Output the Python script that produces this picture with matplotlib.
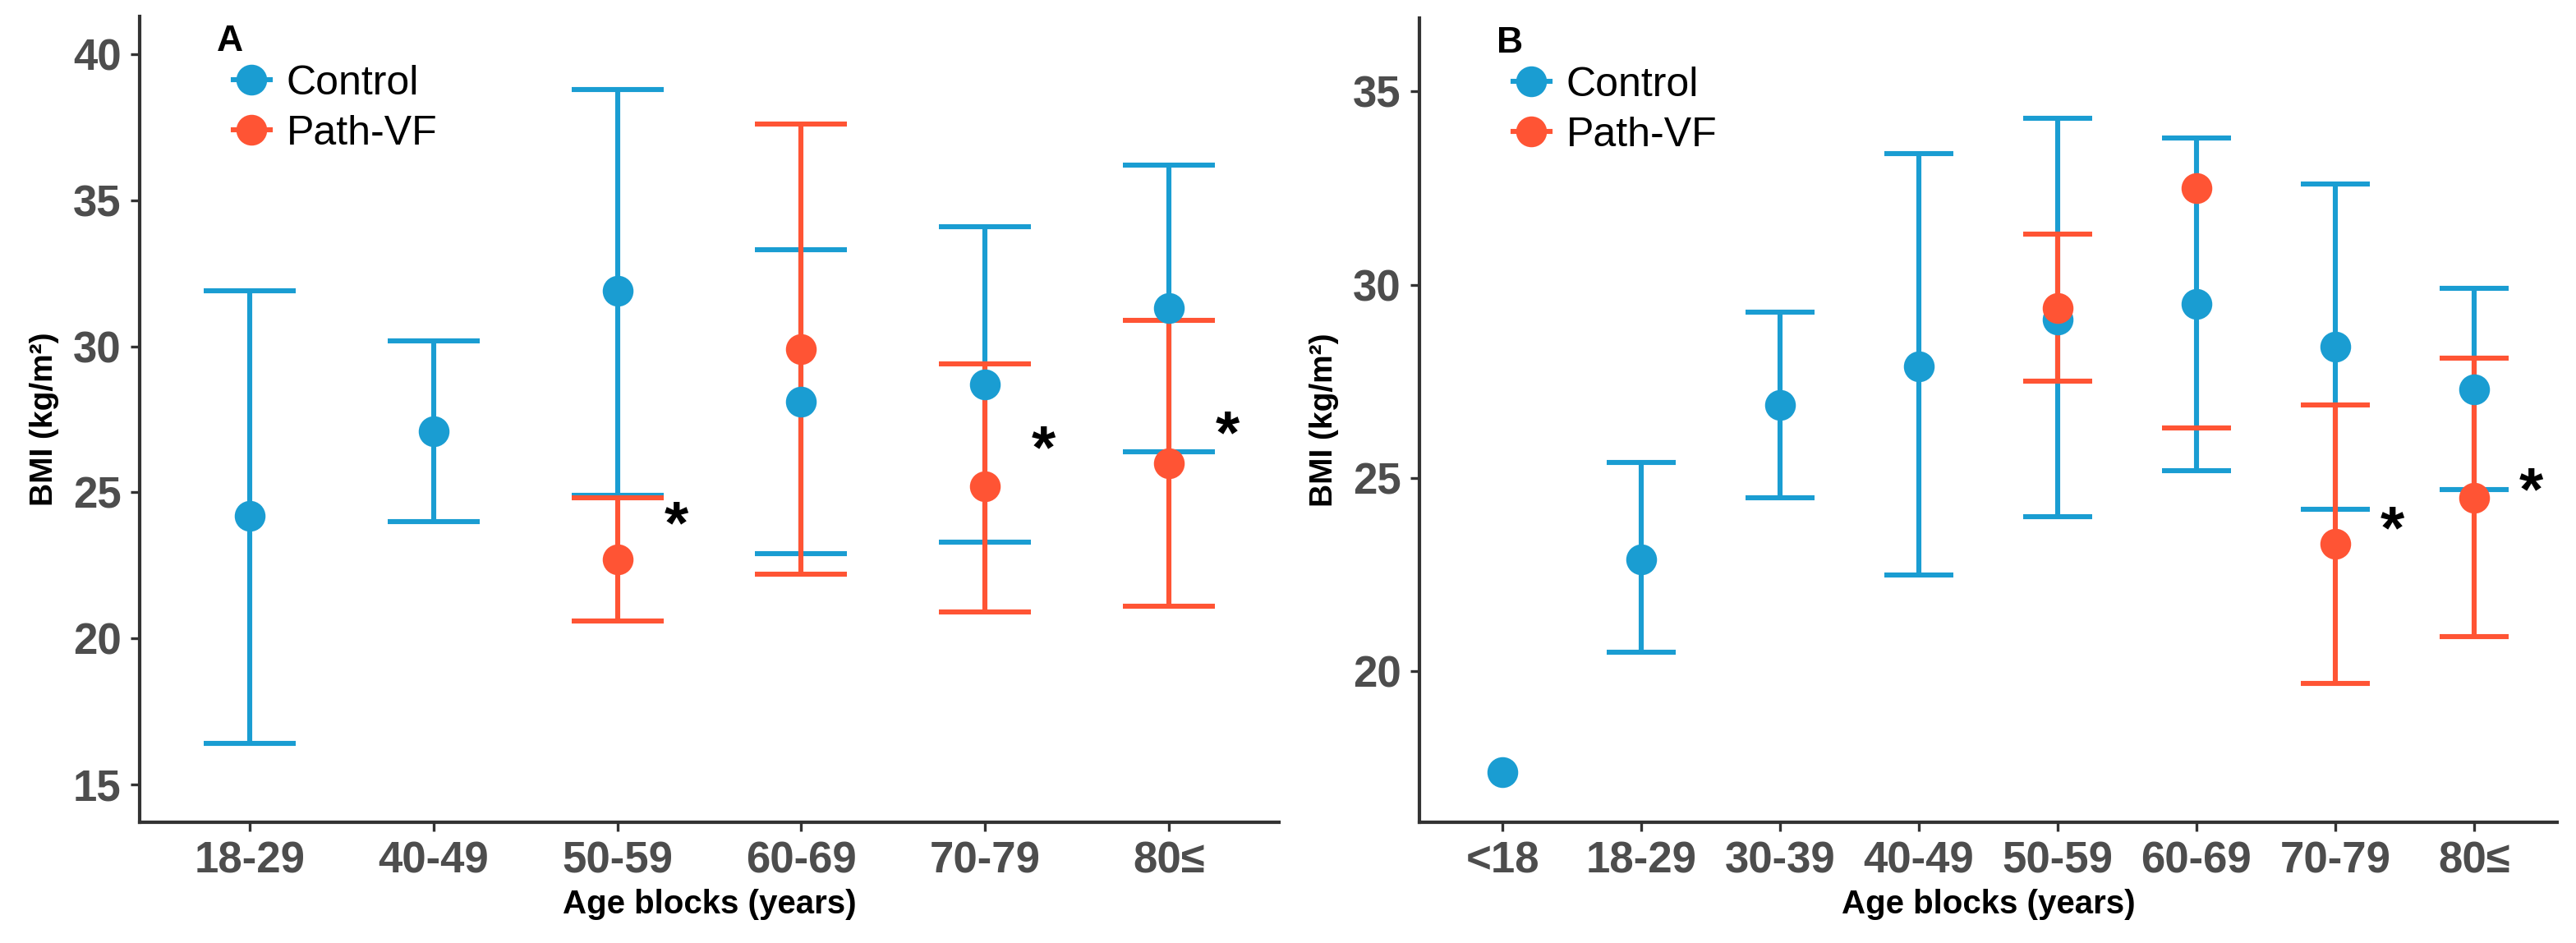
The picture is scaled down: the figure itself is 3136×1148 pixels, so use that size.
import matplotlib
matplotlib.use("Agg")
import matplotlib.pyplot as plt
from matplotlib.lines import Line2D
import numpy as np

nan = np.nan

# panel A
cats_a = ['18-29', '40-49', '50-59', '60-69', '70-79', '80≤']
ctrl_a_mean = [24.2, 27.1, 31.9, 28.1, 28.7, 31.3]
ctrl_a_low = [16.4, 24.0, 24.9, 22.9, 23.3, 26.4]
ctrl_a_high = [31.9, 30.2, 38.8, 33.3, 34.1, 36.2]
path_a_mean = [nan, nan, 22.7, 29.9, 25.2, 26.0]
path_a_low = [nan, nan, 20.6, 22.2, 20.9, 21.1]
path_a_high = [nan, nan, 24.8, 37.6, 29.4, 30.9]
stars_a_x = ['50-59', '70-79', '80≤']
stars_a_y = [23.8, 26.4, 26.9]

# panel B
cats_b = ['<18', '18-29', '30-39', '40-49', '50-59', '60-69', '70-79', '80≤']
ctrl_b_mean = [17.4, 22.9, 26.9, 27.9, 29.1, 29.5, 28.4, 27.3]
ctrl_b_low = [nan, 20.5, 24.5, 22.5, 24.0, 25.2, 24.2, 24.7]
ctrl_b_high = [nan, 25.4, 29.3, 33.4, 34.3, 33.8, 32.6, 29.9]
path_b_mean = [nan, nan, nan, nan, 29.4, 32.5, 23.3, 24.5]
path_b_low = [nan, nan, nan, nan, 27.5, 26.3, 19.7, 20.9]
path_b_high = [nan, nan, nan, nan, 31.3, nan, 26.9, 28.1]
stars_b_x = ['70-79', '80≤']
stars_b_y = [23.6, 24.6]

BLUE = '#1A9DD2'
RED = '#FF5434'
TICKC = '#4D4D4D'

plt.rcParams['font.family'] = ['Liberation Sans', 'DejaVu Sans']

fig = plt.figure(figsize=(15.68, 5.74), dpi=200)


def draw_errbars(ax, x, mean, low, high, color):
    x = np.asarray(x, dtype=float)
    low = np.asarray(low, dtype=float)
    high = np.asarray(high, dtype=float)
    both = np.isfinite(low) & np.isfinite(high)
    ax.vlines(x[both], low[both], high[both], color=color, lw=2.2, zorder=2)
    w = 0.25
    for arr in (low, high):
        ok = np.isfinite(arr)
        ax.hlines(arr[ok], x[ok] - w, x[ok] + w, color=color, lw=2.2, zorder=2)


def panel(rect, cats, c_mean, c_low, c_high, p_mean, p_low, p_high,
          sx, sy, star_dx, ylim, yticks, letter):
    ax = fig.add_axes(rect)
    x = np.arange(1, len(cats) + 1)
    draw_errbars(ax, x, c_mean, c_low, c_high, BLUE)
    draw_errbars(ax, x, p_mean, p_low, p_high, RED)
    ax.plot(x, c_mean, 'o', color=BLUE, ms=12.5, zorder=3)
    ax.plot(x, p_mean, 'o', color=RED, ms=12.5, zorder=4)
    for lab, yv in zip(sx, sy):
        ax.text(cats.index(lab) + 1 + star_dx, yv, '*', fontsize=27,
                fontweight='bold', ha='center', va='center')
    ax.set_xlim(0.4, len(cats) + 0.6)
    ax.set_ylim(*ylim)
    ax.set_xticks(x)
    ax.set_xticklabels(cats)
    ax.set_yticks(yticks)
    for s in ('top', 'right'):
        ax.spines[s].set_visible(False)
    for s in ('left', 'bottom'):
        ax.spines[s].set_linewidth(1.5)
        ax.spines[s].set_color('#333333')
    ax.tick_params(axis='both', length=4, width=1.2, color='#333333',
                   labelcolor=TICKC, labelsize=19, pad=4)
    for t in ax.get_xticklabels() + ax.get_yticklabels():
        t.set_fontweight('bold')
    ax.set_xlabel('Age blocks (years)', fontsize=14.5, fontweight='bold', labelpad=3)
    ax.set_ylabel('BMI (kg/m²)', fontsize=14, fontweight='bold', labelpad=6)
    ax.text(0.068, 0.99, letter, transform=ax.transAxes, fontsize=16,
            fontweight='bold', ha='left', va='top')
    handles = [Line2D([0], [0], marker='o', color=BLUE, ms=12.5, lw=2.2),
               Line2D([0], [0], marker='o', color=RED, ms=12.5, lw=2.2)]
    ax.legend(handles, ['Control', 'Path-VF'], loc='upper left',
              bbox_to_anchor=(0.082, 0.94), frameon=False, fontsize=18,
              handlelength=0.9, handletextpad=0.4, labelspacing=0.3,
              borderaxespad=0, borderpad=0)
    return ax


panel([0.0542, 0.128, 0.4423, 0.8546], cats_a, ctrl_a_mean, ctrl_a_low, ctrl_a_high,
      path_a_mean, path_a_low, path_a_high, stars_a_x, stars_a_y, 0.32,
      (13.7, 41.3), [15, 20, 25, 30, 35, 40], 'A')
panel([0.551, 0.128, 0.4417, 0.853], cats_b, ctrl_b_mean, ctrl_b_low, ctrl_b_high,
      path_b_mean, path_b_low, path_b_high, stars_b_x, stars_b_y, 0.41,
      (16.1, 36.9), [20, 25, 30, 35], 'B')

fig.savefig('out.png', dpi=200)
